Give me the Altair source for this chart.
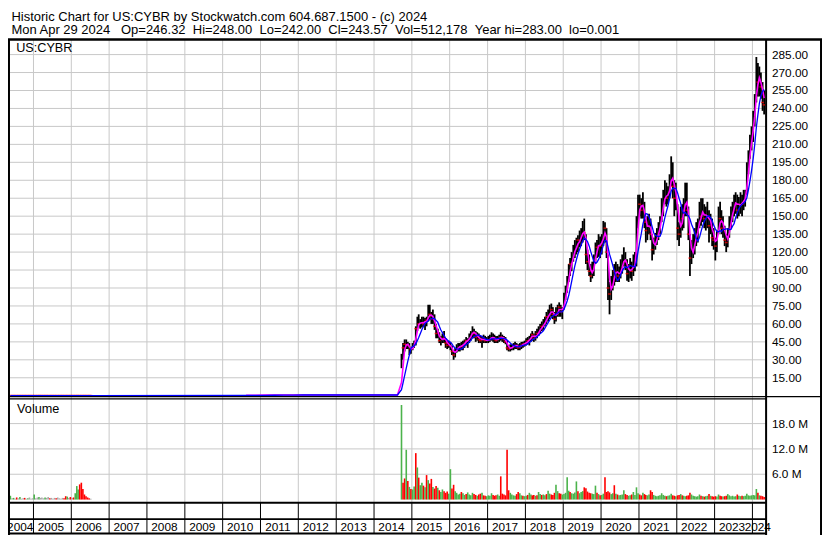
import altair as alt
import pandas as pd

SX = 814 / 830
SY = 527 / 543
SF = (SX + SY) / 2
FONT = "Liberation Sans"
GRID = "#c8c8c8"
GREEN = "#4cb34c"
RED = "#ff0000"
GREY = "#a8a8a8"

# ---------------- data ----------------
# CYBR, two points per month (8th / 23rd): high, low, close ($), peak daily volume (millions), up/down
hi_2014 = [35, 44, 47, 47, 45, 44, 41]
lo_2014 = [23, 30, 37, 39, 39, 34, 35]
cl_2014 = [32, 40, 43, 44, 42, 37, 39]
vol_2014 = [22.4, 4.0, 5.0, 11.8, 4.4, 3.0, 2.5]
dir_2014 = "UDDUDUD"

hi_2015 = [44, 46, 58, 66, 68, 64, 66, 66, 65, 66, 76, 76, 70, 72, 68, 60, 56, 53, 50, 52, 54, 48, 46, 46]
lo_2015 = [38, 40, 42, 54, 57, 56, 57, 58, 55, 58, 62, 64, 60, 60, 55, 48, 48, 44, 42, 44, 44, 40, 39, 40]
cl_2015 = [42, 44, 56, 62, 60, 60, 63, 60, 62, 63, 70, 68, 64, 66, 58, 52, 52, 46, 46, 49, 48, 44, 42, 43]
vol_2015 = [2.4, 3.1, 11.0, 7.6, 5.2, 3.4, 4.0, 3.3, 2.9, 5.8, 4.6, 3.8, 4.9, 3.0, 2.6, 3.2, 2.8, 2.2, 1.8, 2.4, 2.0, 1.6, 1.9, 1.4]
dir_2015 = "UUDUDUUDUDUDDUDDUDUUDDDU"

hi_2016 = [45, 42, 38, 40, 43, 44, 44, 45, 46, 47, 49, 48, 52, 54, 58, 56, 54, 53, 52, 50, 50, 51, 50, 49]
lo_2016 = [38, 34, 30, 32, 36, 37, 37, 38, 38, 40, 42, 40, 44, 46, 48, 48, 45, 46, 44, 44, 40, 44, 44, 44]
cl_2016 = [40, 37, 34, 38, 40, 41, 42, 41, 44, 45, 46, 47, 49, 52, 55, 52, 49, 50, 47, 46, 48, 47, 46, 46]
vol_2016 = [7.2, 2.6, 3.5, 2.0, 1.6, 1.2, 1.4, 1.8, 1.5, 1.1, 1.3, 1.7, 1.2, 1.0, 1.6, 1.3, 1.1, 0.9, 1.2, 1.4, 1.6, 1.0, 0.9, 0.8]
dir_2016 = "UDDUUUUDUUDUUUUDDUDDUDDU"

hi_2017 = [50, 51, 53, 52, 51, 50, 50, 51, 53, 51, 50, 49, 46, 42, 43, 43, 44, 45, 44, 43, 44, 45, 45, 46]
lo_2017 = [44, 45, 46, 45, 44, 44, 44, 45, 46, 45, 44, 43, 38, 37, 37, 38, 38, 39, 39, 38, 38, 39, 40, 41]
cl_2017 = [47, 48, 50, 48, 47, 46, 48, 49, 49, 48, 47, 45, 40, 39, 40, 41, 42, 43, 41, 40, 42, 43, 43, 44]
vol_2017 = [1.0, 0.9, 1.5, 1.1, 0.9, 1.0, 1.2, 0.9, 5.5, 1.4, 1.2, 1.0, 11.8, 2.2, 1.6, 1.2, 1.0, 0.9, 1.3, 1.8, 1.5, 1.0, 0.9, 0.8]
dir_2017 = "UUUDDDUUDDDDDDUUUUDDUUDU"

hi_2018 = [48, 49, 50, 52, 54, 52, 54, 56, 58, 60, 62, 64, 66, 70, 72, 76, 77, 74, 70, 74, 76, 78, 76, 74]
lo_2018 = [42, 43, 42, 45, 46, 45, 46, 48, 50, 52, 54, 55, 58, 60, 62, 64, 66, 64, 60, 62, 66, 66, 66, 64]
cl_2018 = [45, 46, 48, 50, 51, 48, 50, 52, 55, 57, 58, 60, 63, 66, 68, 70, 72, 68, 64, 70, 72, 74, 70, 72]
vol_2018 = [0.9, 1.1, 1.6, 1.2, 1.0, 1.1, 0.9, 1.0, 1.8, 1.3, 1.1, 1.2, 1.0, 1.3, 2.1, 1.4, 1.2, 1.1, 1.6, 3.5, 2.0, 1.5, 1.4, 1.2]
dir_2018 = "UDUUDDUDUUDUUDUUDDDUUDDU"

hi_2019 = [86, 92, 100, 110, 115, 120, 126, 130, 132, 134, 138, 140, 146, 148, 135, 122, 118, 110, 112, 118, 128, 130, 135, 133]
lo_2019 = [72, 80, 86, 95, 100, 104, 112, 115, 118, 120, 124, 125, 128, 130, 110, 105, 100, 95, 98, 100, 110, 115, 116, 115]
cl_2019 = [82, 88, 96, 104, 110, 115, 120, 126, 124, 130, 132, 134, 140, 136, 118, 112, 104, 100, 105, 112, 124, 124, 128, 125]
vol_2019 = [1.3, 1.6, 5.3, 2.1, 1.8, 1.5, 1.4, 1.7, 4.3, 2.0, 1.5, 1.8, 2.0, 2.9, 2.7, 1.9, 1.6, 1.5, 1.4, 1.3, 3.3, 1.6, 1.3, 1.0]
dir_2019 = "UUUUDUUUUDUUUDDDDDUUUDUD"

hi_2020 = [135, 146, 145, 140, 118, 95, 100, 105, 110, 112, 110, 108, 114, 118, 124, 120, 114, 110, 115, 112, 118, 120, 150, 168]
lo_2020 = [118, 125, 128, 115, 80, 68, 80, 88, 92, 95, 95, 95, 98, 102, 108, 105, 96, 95, 98, 96, 100, 104, 108, 140]
cl_2020 = [130, 138, 140, 120, 90, 85, 92, 98, 104, 106, 100, 100, 108, 112, 116, 112, 102, 104, 108, 104, 110, 112, 145, 160]
vol_2020 = [1.1, 1.4, 5.3, 1.8, 2.0, 1.7, 1.3, 1.5, 3.4, 1.4, 1.2, 1.0, 1.1, 1.2, 2.2, 1.3, 1.1, 0.9, 1.0, 1.2, 1.8, 1.1, 2.9, 1.5]
dir_2020 = "UUDDDDUUDUDUUUUDDUUDUUUU"

hi_2021 = [168, 165, 170, 162, 148, 150, 152, 148, 135, 132, 136, 140, 145, 150, 165, 172, 180, 178, 175, 185, 200, 195, 180, 178]
lo_2021 = [150, 148, 148, 140, 128, 130, 135, 130, 113, 118, 122, 126, 130, 135, 145, 150, 160, 158, 160, 165, 175, 165, 150, 155]
cl_2021 = [160, 155, 162, 145, 138, 142, 145, 135, 122, 126, 130, 134, 140, 145, 158, 165, 170, 165, 168, 180, 190, 175, 165, 170]
vol_2021 = [1.2, 1.0, 1.6, 1.3, 1.1, 1.0, 1.2, 2.2, 1.8, 1.1, 0.9, 0.8, 0.9, 1.0, 1.5, 1.1, 0.9, 0.8, 0.9, 1.0, 1.4, 1.0, 0.9, 0.8]
dir_2021 = "DDUDDUUDDUUUUUUUUDUUUDDU"

hi_2022 = [160, 145, 158, 160, 165, 178, 178, 158, 135, 130, 135, 140, 145, 148, 162, 165, 165, 160, 158, 162, 155, 152, 148, 140]
lo_2022 = [130, 125, 132, 138, 140, 150, 150, 130, 100, 110, 115, 118, 125, 128, 140, 142, 145, 140, 138, 140, 128, 135, 125, 122]
cl_2022 = [140, 135, 150, 148, 160, 170, 155, 135, 115, 120, 125, 132, 138, 140, 155, 150, 155, 148, 150, 152, 142, 145, 132, 130]
vol_2022 = [1.0, 1.1, 1.3, 1.0, 0.9, 0.8, 0.9, 1.0, 1.6, 1.2, 0.9, 0.8, 0.7, 0.8, 1.2, 0.9, 0.8, 0.7, 0.8, 0.9, 1.3, 0.9, 0.8, 0.7]
dir_2022 = "DDUDUUDDDUUUUUUDUDUUDUDD"

hi_2023 = [132, 138, 158, 162, 155, 150, 142, 135, 140, 150, 158, 162, 168, 170, 168, 166, 170, 168, 172, 172, 195, 205, 218, 225]
lo_2023 = [113, 120, 135, 140, 135, 132, 125, 120, 124, 132, 140, 145, 150, 152, 148, 150, 152, 150, 155, 158, 168, 185, 198, 205]
cl_2023 = [125, 135, 150, 148, 140, 145, 130, 128, 135, 145, 150, 158, 160, 165, 155, 160, 162, 160, 165, 168, 188, 200, 212, 220]
vol_2023 = [0.8, 0.7, 1.2, 0.9, 0.8, 0.7, 0.8, 0.9, 1.3, 1.0, 0.8, 0.9, 0.7, 0.8, 1.2, 0.9, 0.8, 0.9, 0.8, 0.9, 1.4, 1.0, 0.9, 1.0]
dir_2023 = "DUUDDUDDUUUUUUDUUDUUUUUU"

hi_2024 = [238, 252, 283, 278, 275, 270, 262, 255]
lo_2024 = [212, 225, 245, 250, 250, 248, 238, 235]
cl_2024 = [232, 248, 270, 262, 265, 258, 245, 243]
vol_2024 = [1.1, 1.0, 2.5, 1.6, 1.0, 0.9, 0.8, 0.6]
dir_2024 = "UUUDUDDD"

# earlier listing under the same symbol (2004-2006): price near zero, small volumes
early_vol_2004 = [0.9, 0.3, 0.4, 0.2, 0.5, 0.3, 0.6, 0.2, 0.3, 0.4, 0.2, 0.3, 0.5, 0.2, 0.3]
early_vol_2005 = [1.2, 0.3, 0.5, 0.6, 0.4, 0.5, 0.3, 0.5, 0.4, 0.6, 0.3, 0.4, 0.2, 0.4, 0.3, 0.5, 0.3, 0.2, 0.4, 0.3, 0.8, 0.7, 0.4, 0.6]
early_vol_2006 = [0.4, 0.5, 1.5, 3.2, 2.4, 3.6, 4.0, 2.5, 1.2, 0.8, 0.5, 0.3, 0.2]
early_dir = "UNUNDNUNNDNUNNN" + "UNNUNNNUNNDNNNDNNNNDDUND" + "NDUUUDDDDDDDN"
early_price = 0.15
# flat quote 2010-2014 (no volume)
flat_price = 0.6

price_ticks = [15, 30, 45, 60, 75, 90, 105, 120, 135, 150, 165, 180, 195, 210, 225, 240, 255, 270, 285]
vol_ticks = [6, 12, 18]
years = list(range(2004, 2025))

header_1 = "Historic Chart for US:CYBR by Stockwatch.com 604.687.1500 - (c) 2024"
header_2 = "\u00a0\u00a0".join(["Mon Apr 29 2024\u00a0", "Op=246.32", "Hi=248.00", "Lo=242.00",
                               "Cl=243.57", "Vol=512,178", "Year hi=283.00", "lo=0.001"])

# ---------------- build tables ----------------
def semi_monthly(start, end):
    out = []
    for y in range(start.year, end.year + 1):
        for m in range(1, 13):
            for d in (8, 23):
                t = pd.Timestamp(y, m, d)
                if start <= t <= end:
                    out.append(t)
    return out

cy_dates = semi_monthly(pd.Timestamp(2014, 9, 23), pd.Timestamp(2024, 4, 23))
yrs = range(2014, 2025)
cy_hi = sum([globals()[f"hi_{y}"] for y in yrs], [])
cy_lo = sum([globals()[f"lo_{y}"] for y in yrs], [])
cy_cl = sum([globals()[f"cl_{y}"] for y in yrs], [])
cy_vol = sum([globals()[f"vol_{y}"] for y in yrs], [])
cy_dir = list("".join(globals()[f"dir_{y}"] for y in yrs))

df_cy = pd.DataFrame({"date": cy_dates, "hi": cy_hi, "lo": cy_lo, "cl": cy_cl,
                      "vol": cy_vol, "dir": cy_dir, "seg": "cy"})

early_dates = semi_monthly(pd.Timestamp(2004, 5, 23), pd.Timestamp(2006, 7, 8))
early_vol = early_vol_2004 + early_vol_2005 + early_vol_2006
df_early = pd.DataFrame({"date": early_dates, "hi": early_price, "lo": early_price, "cl": early_price,
                         "vol": early_vol, "dir": list(early_dir), "seg": "early"})

flat_dates = [pd.Timestamp(y, m, 15) for y in range(2010, 2015) for m in (2, 5, 8, 11)
              if pd.Timestamp(2010, 8, 1) <= pd.Timestamp(y, m, 15) <= pd.Timestamp(2014, 8, 31)]
df_flat = pd.DataFrame({"date": flat_dates, "hi": flat_price, "lo": flat_price, "cl": flat_price,
                        "vol": 0.0, "dir": "N", "seg": "flat"})

df = pd.concat([df_early, df_flat, df_cy], ignore_index=True).sort_values("date")
df["zero"] = 0.0

D0 = pd.Timestamp(2004, 5, 19)
D1 = pd.Timestamp(2024, 5, 12)
mids = []
for y in years:
    a = max(pd.Timestamp(y, 1, 1), D0)
    b = min(pd.Timestamp(y + 1, 1, 1), D1)
    mids.append(a + (b - a) / 2)
df_years = pd.DataFrame({"date": mids, "yr": [str(y) for y in years]})
df_bounds = pd.DataFrame({"date": [pd.Timestamp(y, 1, 1) for y in years[1:]]})
df_pt = pd.DataFrame({"v": price_ticks})
df_vt = pd.DataFrame({"v": vol_ticks})

# ---------------- scales ----------------
xs = alt.Scale(domain=[alt.DateTime(year=2004, month=5, date=19),
                       alt.DateTime(year=2024, month=5, date=12)],
               range=[2 * SX, 773 * SX])
ps = alt.Scale(domain=[0, 300], range=[399.5 * SY, 29.5 * SY])
vs = alt.Scale(domain=[0, 24], range=[506.5 * SY, 402.1 * SY])
X = alt.X("date:T", scale=xs, axis=None)

# ---------------- layers ----------------
grid_v = alt.Chart(df_bounds).mark_rule(color=GRID, strokeWidth=1).encode(
    x=X, y=alt.value(33 * SY), y2=alt.value(509 * SY))
grid_p = alt.Chart(df_pt).mark_rule(color=GRID, strokeWidth=1).encode(
    y=alt.Y("v:Q", scale=ps, axis=None), x=alt.value(2 * SX), x2=alt.value(773 * SX))
grid_vol = alt.Chart(df_vt).mark_rule(color=GRID, strokeWidth=1).encode(
    y=alt.Y("v:Q", scale=vs, axis=None), x=alt.value(2 * SX), x2=alt.value(773 * SX))

bars = alt.Chart(df).transform_filter("datum.seg == 'cy'").mark_rule(
    color="black", strokeWidth=1.8).encode(
    x=X, y=alt.Y("hi:Q", scale=ps, axis=None), y2="lo:Q")

ticks = alt.Chart(df).transform_filter("datum.dir == 'D' || datum.seg == 'early'").mark_tick(
    color=RED, orient="horizontal", size=3, thickness=1.5).encode(
    x=X, y=alt.Y("cl:Q", scale=ps, axis=None))

ma_fast = alt.Chart(df).transform_window(
    ma="mean(cl)", frame=[-2, 0], sort=[alt.SortField("date")]
).transform_filter("datum.seg != 'early'").mark_line(color="#ff00ff", strokeWidth=1.6).encode(
    x=X, y=alt.Y("ma:Q", scale=ps, axis=None))

ma_slow = alt.Chart(df).transform_window(
    ma="mean(cl)", frame=[-6, 0], sort=[alt.SortField("date")]
).mark_line(color="#0000ff", strokeWidth=1.3).encode(
    x=X, y=alt.Y("ma:Q", scale=ps, axis=None))

vol_bars = alt.Chart(df).transform_filter("datum.vol > 0").mark_rule(strokeWidth=1.6).encode(
    x=X, y=alt.Y("vol:Q", scale=vs, axis=None), y2="zero:Q",
    color=alt.Color("dir:N", scale=alt.Scale(domain=["U", "D", "N"], range=[GREEN, RED, GREY]),
                    legend=None))

# frame lines (layout, in reference pixels)
frame = pd.DataFrame([
    (0, 32.5, 830, 32.5, 2.5),
    (1, 32.5, 1, 543, 2),
    (773, 32.5, 773, 543, 2),
    (829, 32.5, 829, 543, 2),
    (0, 400.5, 830, 400.5, 1.3),
    (0, 402.7, 773, 402.7, 1.2),
    (0, 509.8, 773, 509.8, 2),
    (0, 526.6, 773, 526.6, 1.6),
    (0, 541.5, 773, 541.5, 2),
], columns=["x1", "y1", "x2", "y2", "w"])
frame[["x1", "x2"]] *= SX
frame[["y1", "y2"]] *= SY
frame_l = alt.Chart(frame).mark_rule(color="black").encode(
    x=alt.X("x1:Q", scale=None), x2="x2:Q",
    y=alt.Y("y1:Q", scale=None), y2="y2:Q",
    strokeWidth=alt.StrokeWidth("w:Q", scale=None))

seps = alt.Chart(df_bounds).mark_rule(color="black", strokeWidth=1).encode(
    x=X, y=alt.value(510 * SY), y2=alt.value(541 * SY))

FS = 11.8
p_labels = alt.Chart(df_pt).mark_text(align="left", baseline="middle", font=FONT, fontSize=FS,
                                      color="black").encode(
    x=alt.value(779 * SX), y=alt.Y("v:Q", scale=ps, axis=None), text=alt.Text("v:Q", format=".2f"))
v_labels = alt.Chart(df_vt).transform_calculate(lab="format(datum.v, '.1f') + ' M'").mark_text(
    align="left", baseline="middle", font=FONT, fontSize=FS, color="black").encode(
    x=alt.value(779 * SX), y=alt.Y("v:Q", scale=vs, axis=None), text="lab:N")
y_labels = alt.Chart(df_years).mark_text(align="center", baseline="middle", font=FONT, fontSize=FS,
                                         color="black", dx=-1.5).encode(
    x=X, y=alt.value(534.3 * SY), text="yr:N")

texts = pd.DataFrame([
    (3.5, 9.0, header_1, 13.3),
    (3.5, 23.0, header_2, 13.3),
    (8.3, 41.5, "US:CYBR", 13.0),
    (9.3, 413.0, "Volume", 13.0),
], columns=["px", "py", "txt", "fs"])
texts["px"] *= SX
texts["py"] *= SY
texts["fs"] *= SF
text_l = alt.Chart(texts).mark_text(align="left", baseline="middle", font=FONT, color="black").encode(
    x=alt.X("px:Q", scale=None), y=alt.Y("py:Q", scale=None), text="txt:N",
    size=alt.Size("fs:Q", scale=None, legend=None))

chart = alt.layer(
    grid_v, grid_p, grid_vol, bars, ticks, ma_fast, ma_slow, vol_bars,
    frame_l, seps, p_labels, v_labels, y_labels, text_l
).resolve_scale(x="independent", y="independent", color="independent", size="independent").properties(
    width=814, height=527, autosize=alt.AutoSizeParams(type="none"), padding=0
).configure_view(strokeWidth=0)

chart.save("out.html", embed_options={"renderer": "svg", "actions": False})
